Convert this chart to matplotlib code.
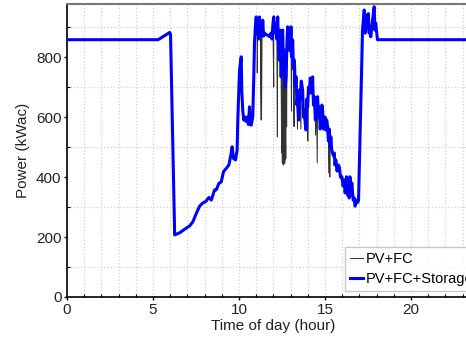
"""
Daily AC power profile -- PV+FC vs PV+FC+Storage
Writes out.png (466x338).
"""

import matplotlib
matplotlib.use("Agg")
import matplotlib.pyplot as plt
from matplotlib.ticker import MultipleLocator

plt.rcParams["font.family"] = ["Liberation Sans", "DejaVu Sans"]

# PV+FC+Storage profile, hour of day vs kWac
storage_hours = [
    0.00, 5.30, 5.97, 6.02, 6.26, 6.55, 6.84, 7.13, 7.32, 7.52, 7.71, 7.90,
    8.06, 8.25, 8.39, 8.58, 8.68, 8.83, 8.97, 9.10, 9.26, 9.41, 9.51, 9.60,
    9.68, 9.80, 9.89, 9.93, 10.03, 10.13, 10.16, 10.22, 10.28, 10.35, 10.42,
    10.50, 10.55, 10.61, 10.66, 10.71, 10.80, 10.86, 10.90, 10.95, 11.00,
    11.05, 11.09, 11.14, 11.19, 11.24, 11.29, 11.34, 11.38, 11.43, 11.48,
    11.58, 11.67, 11.77, 11.87, 11.92, 11.97, 12.02, 12.08, 12.16, 12.20,
    12.25, 12.30, 12.35, 12.40, 12.45, 12.50, 12.54, 12.59, 12.64, 12.69,
    12.74, 12.79, 12.83, 12.88, 12.93, 12.97, 13.02, 13.07, 13.12, 13.17,
    13.22, 13.27, 13.32, 13.37, 13.41, 13.47, 13.51, 13.55, 13.62, 13.70,
    13.75, 13.80, 13.85, 13.89, 13.94, 13.99, 14.04, 14.09, 14.14, 14.19,
    14.24, 14.28, 14.33, 14.38, 14.44, 14.50, 14.57, 14.62, 14.67, 14.72,
    14.77, 14.82, 14.86, 14.91, 14.96, 15.00, 15.05, 15.10, 15.15, 15.20,
    15.25, 15.30, 15.34, 15.39, 15.44, 15.50, 15.54, 15.58, 15.63, 15.70,
    15.78, 15.83, 15.90, 15.98, 16.05, 16.12, 16.17, 16.25, 16.31, 16.37,
    16.41, 16.45, 16.50, 16.56, 16.64, 16.70, 16.75, 16.83, 16.90, 16.95,
    17.03, 17.12, 17.18, 17.28, 17.34, 17.41, 17.47, 17.52, 17.57, 17.62,
    17.66, 17.76, 17.86, 17.90, 17.95, 18.05, 24.00,
]
storage_kw = [
    858, 858, 882, 875, 207, 214, 226, 237, 251, 279, 303, 314,
    318, 332, 323, 357, 357, 379, 384, 418, 429, 440, 468, 501,
    462, 457, 490, 590, 757, 801, 690, 620, 590, 600, 585,
    600, 575, 634, 590, 573, 601, 734, 847, 900, 934,
    880, 900, 860, 934, 880, 905, 870, 923, 870, 880,
    875, 873, 868, 880, 860, 910, 934, 880, 913, 860,
    934, 840, 790, 890, 734, 860, 890, 760, 823, 700,
    734, 850, 901, 850, 890, 820, 901, 800, 857, 760,
    790, 700, 734, 640, 668, 590, 690, 657, 720, 690,
    600, 623, 580, 557, 660, 634, 700, 680, 730, 723,
    680, 734, 640, 668, 590, 650, 668, 600, 634, 560,
    590, 640, 623, 560, 568, 600, 557, 590, 568, 520,
    560, 500, 534, 490, 480, 470, 480, 440, 457, 420,
    440, 434, 400, 401, 370, 390, 347, 401, 340, 357,
    330, 401, 340, 380, 323, 330, 303, 323, 315, 323,
    513, 734, 890, 957, 880, 901, 940, 945, 880, 900,
    868, 920, 968, 890, 913, 858, 858,
]

# extra dips seen only in the PV+FC trace (no storage smoothing)
dip_hours = [11.06, 11.29, 11.31, 12.02, 12.23, 12.48, 12.52, 12.57, 12.62,
             12.66, 12.72, 12.77, 13.05, 13.20, 13.40, 13.60, 14.00, 14.45,
             14.55, 15.24, 15.28]
dip_kw = [747, 590, 600, 700, 534, 480, 447, 440, 490, 445, 460, 568, 620,
          568, 560, 560, 520, 540, 447, 413, 400]


def merge_series(hours, values, extra_hours, extra_values):
    """Merge two (hour, value) lists, sorted by hour."""
    pairs = sorted(list(zip(hours, values)) + list(zip(extra_hours, extra_values)))
    return [p[0] for p in pairs], [p[1] for p in pairs]


def main():
    pvfc_hours, pvfc_kw = merge_series(storage_hours, storage_kw, dip_hours, dip_kw)

    fig = plt.figure(figsize=(4.66, 3.38), dpi=100)
    # right side of the axes runs past the figure edge, as in the source
    ax = fig.add_axes([67 / 466, 41 / 338, 412.8 / 466, 293 / 338])

    ax.plot(pvfc_hours, pvfc_kw, color="#333333", lw=0.7, label="PV+FC", zorder=3)
    ax.plot(storage_hours, storage_kw, color="#0000ff", lw=2.2,
            label="PV+FC+Storage", zorder=4)

    ax.set_xlim(0, 24)
    ax.set_ylim(0, 977)
    ax.xaxis.set_major_locator(MultipleLocator(5))
    ax.xaxis.set_minor_locator(MultipleLocator(1))
    ax.yaxis.set_major_locator(MultipleLocator(200))
    ax.yaxis.set_minor_locator(MultipleLocator(100))

    ax.grid(which="both", axis="x", color="#d0d0d0", linestyle=":", lw=0.9, zorder=0)
    ax.grid(which="minor", axis="y", color="#d0d0d0", linestyle=":", lw=0.9, zorder=0)
    ax.set_axisbelow(True)

    ax.tick_params(which="major", direction="out", length=2.5, width=1, pad=1.5,
                   labelsize=11, colors="black", labelcolor="#222222")
    ax.tick_params(which="minor", direction="in", length=2, width=0.8)

    for side in ("left", "bottom"):
        ax.spines[side].set_linewidth(1.2)
        ax.spines[side].set_color("black")
    ax.spines["top"].set_color("#777777")
    ax.spines["top"].set_linewidth(1.5)

    ax.set_xlabel("Time of day (hour)", fontsize=11, labelpad=2, color="#222222")
    ax.set_ylabel("Power (kWac)", fontsize=11, labelpad=4, color="#222222")

    leg = ax.legend(loc="upper left", bbox_to_anchor=(345 / 466, 1 - 247 / 338),
                    bbox_transform=fig.transFigure, fontsize=10.5, frameon=True,
                    fancybox=False, handlelength=0.9, handletextpad=0.15,
                    borderpad=0.35, labelspacing=0.4, borderaxespad=0)
    leg.get_frame().set_edgecolor("#bbbbbb")
    leg.get_frame().set_linewidth(1.0)
    leg.set_zorder(5)

    fig.savefig("out.png", dpi=100)
    plt.close(fig)


if __name__ == "__main__":
    main()
